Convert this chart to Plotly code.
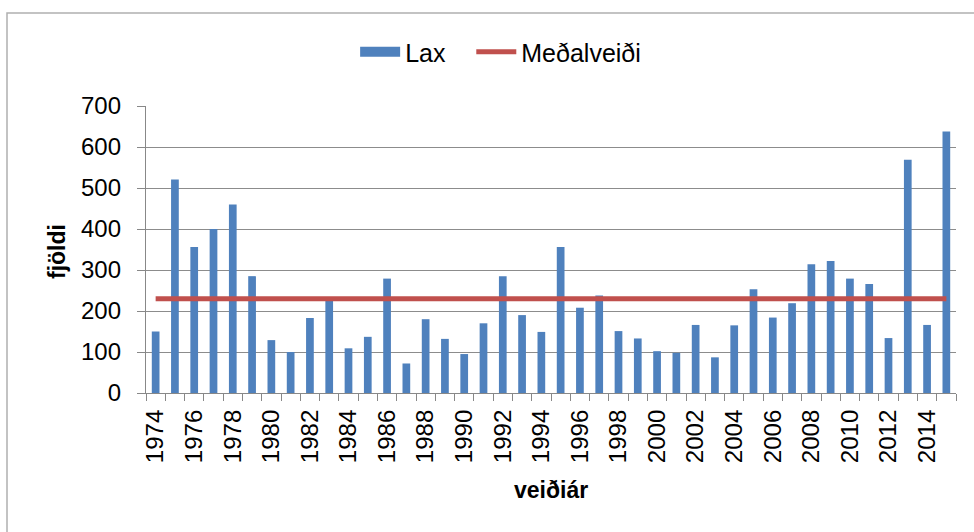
import numpy as np
import plotly.graph_objects as go

years = list(range(1974, 2016))
lax = [150, 521, 356, 400, 460, 285, 129, 100, 183, 228,
       109, 137, 279, 72, 180, 132, 95, 170, 285, 190,
       149, 356, 208, 238, 151, 133, 102, 98, 166, 87,
       165, 253, 184, 219, 314, 322, 279, 266, 134, 569,
       166, 638]
mean_val = float(np.mean(lax))
medal = [mean_val] * len(years)
tick_years = list(range(1974, 2016, 2))

FONT = "Liberation Sans"
W, H = 974, 532
L, R, T, B = 146, 18, 106, 139
BLUE = "#4F81BD"
RED = "#C0504D"

fig = go.Figure()
fig.add_trace(go.Bar(x=years, y=lax, name="Lax", marker=dict(color=BLUE, line=dict(width=0)),
                     width=0.4, showlegend=False, legendgroup="lax"))
# legend key for the bars (wide rectangle like the original)
fig.add_trace(go.Scatter(x=[None], y=[None], name="Lax   ", mode="lines", legendgroup="lax",
                         line=dict(color=BLUE, width=13), hoverinfo="skip"))
fig.add_trace(go.Scatter(x=years, y=medal, name="Meðalveiði", mode="lines",
                         line=dict(color=RED, width=5)))

pw = W - L - R
ph = H - T - B
def px_x(p):
    return (p - L) / pw
def px_y(p):
    return (H - B - p) / ph

fig.update_layout(
    width=W, height=H,
    margin=dict(l=L, r=R, t=T, b=B, autoexpand=False),
    paper_bgcolor="white", plot_bgcolor="white",
    font=dict(family=FONT, size=23, color="black"),
    showlegend=True,
    legend=dict(orientation="h", xref="container", yref="container",
                x=0.514, xanchor="center", y=1 - 52 / H, yanchor="middle",
                font=dict(size=25, family=FONT), itemwidth=40, bgcolor="rgba(0,0,0,0)"),
    xaxis=dict(range=[1973.5, 2015.5], tickmode="array", tickvals=tick_years,
               ticktext=[str(y) for y in tick_years], tickangle=-90, ticks="",
               showgrid=False, showline=True, linecolor="#888888", linewidth=1.3,
               tickfont=dict(size=24, family=FONT), zeroline=False, automargin=False,
               ticklabelstandoff=6,
               minor=dict(ticks="outside", tick0=1973.5, dtick=1, ticklen=7,
                          tickcolor="#888888", tickwidth=1.3, showgrid=False)),
    yaxis=dict(range=[0, 700], tick0=0, dtick=100, ticks="outside", ticklen=8,
               tickcolor="#888888", tickwidth=1.3, showgrid=True, gridcolor="#8c8c8c",
               gridwidth=1.4, showline=True, linecolor="#888888", linewidth=1.3,
               zeroline=False, automargin=False, ticklabelstandoff=11,
               tickfont=dict(size=24, family=FONT)),
    bargap=0.6,
    shapes=[dict(type="rect", xref="paper", yref="paper",
                 x0=px_x(7), x1=px_x(990), y0=px_y(13), y1=px_y(560),
                 line=dict(color="#b0b0b0", width=1.5), fillcolor="rgba(0,0,0,0)", layer="below")],
    annotations=[
        dict(text="<b>fjöldi</b>", xref="paper", yref="paper", x=px_x(57), y=px_y(252),
             showarrow=False, textangle=-90, font=dict(size=23, family=FONT),
             xanchor="center", yanchor="middle"),
        dict(text="<b>veiðiár</b>", xref="paper", yref="paper", x=px_x(551), y=px_y(490),
             showarrow=False, font=dict(size=23, family=FONT),
             xanchor="center", yanchor="middle"),
    ],
)

fig.write_html("out.html", config={"displayModeBar": False},
               post_script="document.body.style.margin='0';document.body.style.overflow='hidden';")
